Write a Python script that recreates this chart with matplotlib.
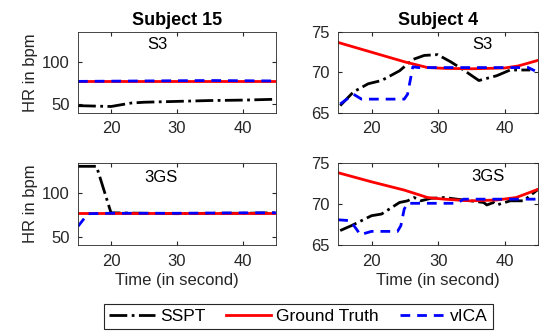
import numpy as np
from matplotlib import pyplot as plt

plt.rcParams['font.family'] = ['Liberation Sans', 'DejaVu Sans']

# Subject 15, S3
t15_s3_sspt = [15, 20, 23, 25, 30, 35, 40, 45]
hr15_s3_sspt = [48.5, 47.5, 51.5, 52.5, 53.5, 54.5, 55.0, 56.0]
t15_s3_gt = [15, 45]
hr15_s3_gt = [77.5, 77.5]
t15_s3_vica = [15, 25, 35, 45]
hr15_s3_vica = [77.0, 77.5, 78.0, 77.5]

# Subject 15, 3GS
t15_3gs_sspt = [15, 17.8, 20, 25, 30, 35, 40, 45]
hr15_3gs_sspt = [131, 131, 77.5, 77, 76.5, 77, 77, 77.5]
t15_3gs_gt = [15, 45]
hr15_3gs_gt = [77.5, 77.5]
t15_3gs_vica = [15, 16.5, 20, 30, 40, 45]
hr15_3gs_vica = [62, 76.5, 77, 77, 77.5, 77.5]

# Subject 4, S3
t4_s3_sspt = [15.3, 17.3, 19.5, 21.5, 24.2, 26.2, 27.9, 29.9, 31.9, 33.8, 36.1, 38.8, 40.8, 43.8]
hr4_s3_sspt = [65.9, 67.6, 68.6, 69.0, 70.2, 71.6, 72.1, 72.2, 71.3, 70.3, 69.0, 69.6, 70.3, 70.3]
t4_s3_gt = [15, 20, 25, 28.4, 31, 35, 40, 42, 45]
hr4_s3_gt = [73.7, 72.5, 71.3, 70.6, 70.5, 70.45, 70.55, 70.8, 71.5]
t4_s3_vica = [15.3, 17.3, 18.5, 24.9, 25.4, 26.2, 27, 35, 43.5, 44.5]
hr4_s3_vica = [66.1, 67.3, 66.7, 66.7, 67.3, 70.7, 70.6, 70.6, 70.6, 70.2]

# Subject 4, 3GS
t4_3gs_sspt = [15.3, 17, 20, 21.5, 24.2, 25.4, 26.4, 27.4, 28.9, 30.9, 32.8, 34.8, 36.8, 37.3, 38.3, 38.8, 40.8, 42.8, 45]
hr4_3gs_sspt = [66.8, 67.4, 68.6, 68.8, 70.2, 70.4, 70.8, 70.4, 70.7, 70.8, 70.6, 70.4, 70.2, 69.9, 70.2, 69.9, 70.4, 70.4, 71.8]
t4_3gs_gt = [15, 20, 24.9, 28.4, 30.9, 34.8, 38.8, 41.7, 45]
hr4_3gs_gt = [73.8, 72.7, 71.7, 70.8, 70.6, 70.4, 70.5, 70.8, 71.8]
t4_3gs_vica = [15, 16.8, 17.8, 18.3, 20, 23.9, 24.4, 24.9, 25.4, 32.8, 33.8, 45]
hr4_3gs_vica = [68.1, 68.0, 66.9, 66.3, 66.7, 66.7, 67.4, 69.4, 70.1, 70.1, 70.6, 70.6]

fig = plt.figure(figsize=(5.42, 3.33), dpi=100)

pos = [[0.144, 0.661, 0.365, 0.243], [0.624, 0.661, 0.369, 0.243],
       [0.144, 0.263, 0.365, 0.248], [0.624, 0.263, 0.369, 0.248]]
data = [
    (t15_s3_sspt, hr15_s3_sspt, t15_s3_gt, hr15_s3_gt, t15_s3_vica, hr15_s3_vica),
    (t4_s3_sspt, hr4_s3_sspt, t4_s3_gt, hr4_s3_gt, t4_s3_vica, hr4_s3_vica),
    (t15_3gs_sspt, hr15_3gs_sspt, t15_3gs_gt, hr15_3gs_gt, t15_3gs_vica, hr15_3gs_vica),
    (t4_3gs_sspt, hr4_3gs_sspt, t4_3gs_gt, hr4_3gs_gt, t4_3gs_vica, hr4_3gs_vica),
]
labels = ["S3", "S3", "3GS", "3GS"]
label_xy = [(0.40, 0.84), (0.72, 0.84), (0.42, 0.82), (0.75, 0.83)]
dark = '#262626'

axes = []
for i in range(4):
    ax = fig.add_axes(pos[i])
    ts, ss, tg, gg, tv, vv = data[i]
    l1, = ax.plot(ts, ss, color='k', ls='-.', lw=2, label='SSPT')
    l2, = ax.plot(tg, gg, color='#ff0000', ls='-', lw=2, label='Ground Truth')
    l3, = ax.plot(tv, vv, color='#0000ff', ls='--', lw=2, label='vICA', dashes=(3.5, 2.5))
    ax.set_xlim(15, 45)
    ax.set_xticks([20, 30, 40])
    if i % 2 == 0:
        ax.set_ylim(40, 135)
        ax.set_yticks([50, 100])
        ax.set_ylabel("HR in bpm", fontsize=12, color=dark, labelpad=3)
    else:
        ax.set_ylim(65, 75)
        ax.set_yticks([65, 70, 75])
    ax.tick_params(direction='in', top=True, right=True, labelsize=12, colors=dark,
                   length=3, pad=6)
    for s in ax.spines.values():
        s.set_color(dark)
        s.set_linewidth(0.6)
    ax.text(label_xy[i][0], label_xy[i][1], labels[i], transform=ax.transAxes,
            ha='center', va='center', fontsize=12)
    if i >= 2:
        ax.set_xlabel("Time (in second)", fontsize=12, color=dark, labelpad=3)
    axes.append(ax)

axes[0].set_title("Subject 15", fontsize=13, fontweight='bold', pad=5)
axes[1].set_title("Subject 4", fontsize=13, fontweight='bold', pad=5)

leg = fig.legend([l1, l2, l3], ['SSPT', 'Ground Truth', 'vICA'], loc='center', ncol=3,
                 bbox_to_anchor=(0.551, 0.05), fontsize=12.5, fancybox=False,
                 edgecolor=dark, framealpha=1, handlelength=2.6, columnspacing=1.2,
                 handletextpad=0.3, borderpad=0.3)
leg.get_frame().set_linewidth(0.8)

plt.savefig("out.png", dpi=100)
